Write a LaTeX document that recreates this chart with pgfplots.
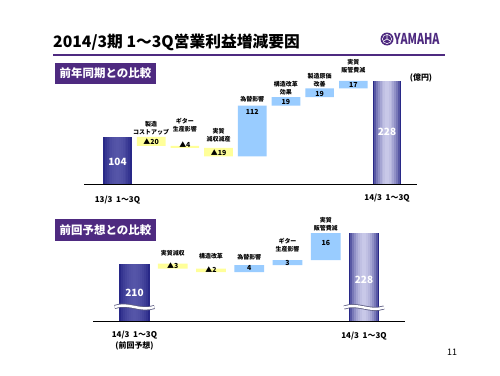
\documentclass[border=0pt]{standalone}
\usepackage{fontspec}
\setmainfont{Noto Sans CJK JP}
\usepackage{graphicx}
\usepackage{pgfplots}
\pgfplotsset{compat=1.18}
\definecolor{ypurple}{RGB}{78,42,128}
\definecolor{barY}{RGB}{255,255,153}
\definecolor{barB}{RGB}{153,204,255}
\definecolor{navyD}{RGB}{40,40,135}
\definecolor{navyM}{RGB}{85,85,168}
\definecolor{navyL}{RGB}{200,200,232}
\newcommand{\labf}{\fontsize{6}{8}\selectfont\bfseries}
\newcommand{\valf}{\fontsize{7}{8}\selectfont\bfseries}
\newcommand{\bigf}{\fontsize{10}{11}\selectfont\bfseries}
\newcommand{\catf}{\fontsize{8}{10.5}\selectfont\bfseries}
\pgfplotsset{
  topgeom/.style={at={(84bp,191bp)}, anchor=south west, scale only axis,
    width=333bp, height=129bp, xmin=-0.994, xmax=8.890, ymin=0, ymax=285,
    hide axis, clip mode=individual},
  botgeom/.style={at={(93bp,54bp)}, anchor=south west, scale only axis,
    width=312bp, height=111bp, xmin=-1.085, xmax=7.072, ymin=176, ymax=241.7,
    hide axis, clip mode=individual},
  cyl/.style 2 args={ybar, bar width=#1, bar shift=0pt, draw=none, fill=#2},
}
\begin{document}
\begin{tikzpicture}
\begin{scope}[x=1bp,y=1bp]
\path[use as bounding box, fill=white] (0,0) rectangle (500,375);
% header
\node[anchor=base west, inner sep=0, font=\fontsize{15.8}{15.8}\selectfont\bfseries] at (53,328) {2014/3期 1〜3Q営業利益増減要因};
\draw[ypurple, line width=1.6bp] (53,320) -- (445,320);
\fill[ypurple] (387,336) circle (6.5);
\draw[white, line width=0.5bp] (387,336) circle (4.6);
\draw[white, line width=0.6bp] (387,336) -- (387,340.5) (387,336) -- (383.2,333.8) (387,336) -- (390.8,333.8);
\node[anchor=west, inner sep=0, text=ypurple, font=\fontsize{15}{15}\selectfont\bfseries] at (394,336) {\scalebox{0.72}[1]{YAMAHA}};
% section boxes
\fill[ypurple] (55,312) rectangle (156,291);
\node[text=white, font=\fontsize{11.5}{12}\selectfont\bfseries] at (105.5,301.5) {前年同期との比較};
\fill[ypurple] (55,156) rectangle (156,134);
\node[text=white, font=\fontsize{11.5}{12}\selectfont\bfseries] at (105.5,145) {前回予想との比較};
\node[font=\fontsize{8}{9}\selectfont\bfseries] at (421,297) {(億円)};
\node[font=\fontsize{9}{10}\selectfont] at (452,23) {11};
\end{scope}

% ===== top chart: floating bars =====
\begin{axis}[topgeom, ybar stacked, bar width=0.85]
\addplot[draw=none, fill=none] coordinates {(1,84) (2,80) (3,61) (4,61) (5,173) (6,192) (7,211)};
\addplot[draw=none, fill=barY] coordinates {(1,20) (2,4) (3,19) (4,0) (5,0) (6,0) (7,0)};
\addplot[draw=none, fill=barB] coordinates {(1,0) (2,0) (3,0) (4,112) (5,19) (6,19) (7,17)};
\end{axis}
% top chart: totals (cylinder look from nested bars), labels, baseline
\begin{axis}[topgeom]
\addplot[cyl={0.85}{navyD}] coordinates {(0,104)};
\addplot[cyl={0.744}{navyM!30!navyD}] coordinates {(0,104)};
\addplot[cyl={0.638}{navyM!50!navyD}] coordinates {(0,104)};
\addplot[cyl={0.531}{navyM!65!navyD}] coordinates {(0,104)};
\addplot[cyl={0.425}{navyM!78!navyD}] coordinates {(0,104)};
\addplot[cyl={0.319}{navyM!88!navyD}] coordinates {(0,104)};
\addplot[cyl={0.213}{navyM!95!navyD}] coordinates {(0,104)};
\addplot[cyl={0.106}{navyM}] coordinates {(0,104)};
\addplot[cyl={0.85}{navyD}] coordinates {(8,228)};
\addplot[cyl={0.744}{navyL!30!navyD}] coordinates {(8,228)};
\addplot[cyl={0.638}{navyL!50!navyD}] coordinates {(8,228)};
\addplot[cyl={0.531}{navyL!65!navyD}] coordinates {(8,228)};
\addplot[cyl={0.425}{navyL!78!navyD}] coordinates {(8,228)};
\addplot[cyl={0.319}{navyL!88!navyD}] coordinates {(8,228)};
\addplot[cyl={0.213}{navyL!95!navyD}] coordinates {(8,228)};
\addplot[cyl={0.106}{navyL}] coordinates {(8,228)};
\draw[black, line width=0.9bp] (rel axis cs:0,0) -- (rel axis cs:1,0);
\node[font=\labf, align=center] at (axis cs:1,122.8) {製造\\コストアップ};
\node[font=\labf, align=center] at (axis cs:2,129.4) {ギター\\生産影響};
\node[font=\labf, align=center] at (axis cs:3,108.4) {実質\\減収減産};
\node[font=\labf, align=center] at (axis cs:4,188.1) {為替影響};
\node[font=\labf, align=center] at (axis cs:5,212.4) {構造改革\\効果};
\node[font=\labf, align=center] at (axis cs:6,230.1) {製造原価\\改善};
\node[font=\labf, align=center] at (axis cs:7,260.0) {実質\\販管費減};
\node[font=\bigf, text=white] at (axis cs:0,48.7) {104};
\node[font=\valf] at (axis cs:1,92.9) {▲20};
\node[font=\valf] at (axis cs:2,86.3) {▲4};
\node[font=\valf] at (axis cs:3,68.6) {▲19};
\node[font=\valf] at (axis cs:4,159.3) {112};
\node[font=\valf] at (axis cs:5,181.4) {19};
\node[font=\valf] at (axis cs:6,199.1) {19};
\node[font=\valf] at (axis cs:7,219.0) {17};
\node[font=\bigf, text=white] at (axis cs:8,115.0) {228};
\node[font=\catf] at (axis cs:0,-35.4) {13/3\ \ 1〜3Q};
\node[font=\catf] at (axis cs:8,-31.0) {14/3\ \ 1〜3Q};
\end{axis}

% ===== bottom chart: floating bars =====
\begin{axis}[botgeom, ybar stacked, bar width=0.78]
\addplot[draw=none, fill=none] coordinates {(1,207) (2,205) (3,205) (4,209) (5,212)};
\addplot[draw=none, fill=barY] coordinates {(1,3) (2,2) (3,0) (4,0) (5,0)};
\addplot[draw=none, fill=barB] coordinates {(1,0) (2,0) (3,4) (4,3) (5,16)};
\end{axis}
\begin{axis}[botgeom]
\addplot[cyl={0.81}{navyD}] coordinates {(0,210)};
\addplot[cyl={0.709}{navyM!30!navyD}] coordinates {(0,210)};
\addplot[cyl={0.608}{navyM!50!navyD}] coordinates {(0,210)};
\addplot[cyl={0.506}{navyM!65!navyD}] coordinates {(0,210)};
\addplot[cyl={0.405}{navyM!78!navyD}] coordinates {(0,210)};
\addplot[cyl={0.304}{navyM!88!navyD}] coordinates {(0,210)};
\addplot[cyl={0.203}{navyM!95!navyD}] coordinates {(0,210)};
\addplot[cyl={0.101}{navyM}] coordinates {(0,210)};
\addplot[cyl={0.81}{navyD}] coordinates {(6,228)};
\addplot[cyl={0.709}{navyL!30!navyD}] coordinates {(6,228)};
\addplot[cyl={0.608}{navyL!50!navyD}] coordinates {(6,228)};
\addplot[cyl={0.506}{navyL!65!navyD}] coordinates {(6,228)};
\addplot[cyl={0.405}{navyL!78!navyD}] coordinates {(6,228)};
\addplot[cyl={0.304}{navyL!88!navyD}] coordinates {(6,228)};
\addplot[cyl={0.203}{navyL!95!navyD}] coordinates {(6,228)};
\addplot[cyl={0.101}{navyL}] coordinates {(6,228)};
\draw[black, line width=0.9bp] (rel axis cs:0,0) -- (rel axis cs:1,0);
% axis break marks
\draw[gray!60!navyD, line width=4bp] (axis cs:-0.52,184.3) .. controls (axis cs:-0.15,187.3) and (axis cs:0.15,181.3) .. (axis cs:0.52,184.3);
\draw[white, line width=2.4bp] (axis cs:-0.52,184.3) .. controls (axis cs:-0.15,187.3) and (axis cs:0.15,181.3) .. (axis cs:0.52,184.3);
\draw[gray!60!navyD, line width=4bp] (axis cs:5.48,184.0) .. controls (axis cs:5.85,187.0) and (axis cs:6.15,181.0) .. (axis cs:6.52,184.0);
\draw[white, line width=2.4bp] (axis cs:5.48,184.0) .. controls (axis cs:5.85,187.0) and (axis cs:6.15,181.0) .. (axis cs:6.52,184.0);
\node[font=\labf, align=center] at (axis cs:1,216.2) {実質減収};
\node[font=\labf, align=center] at (axis cs:2,214.5) {構造改革};
\node[font=\labf, align=center] at (axis cs:3,213.9) {為替影響};
\node[font=\labf, align=center] at (axis cs:4,220.7) {ギター\\生産影響};
\node[font=\labf, align=center] at (axis cs:5,233.1) {実質\\販管費減};
\node[font=\bigf, text=white] at (axis cs:0,192.6) {210};
\node[font=\valf] at (axis cs:1,208.5) {▲3};
\node[font=\valf] at (axis cs:2,206.2) {▲2};
\node[font=\valf] at (axis cs:3,207.4) {4};
\node[font=\valf] at (axis cs:4,210.3) {3};
\node[font=\valf] at (axis cs:5,222.2) {16};
\node[font=\bigf, text=white] at (axis cs:6,200.3) {228};
\node[font=\catf, align=center] at (axis cs:0,164.5) {14/3\ \ 1〜3Q\\(前回予想)};
\node[font=\catf] at (axis cs:6,167.1) {14/3\ \ 1〜3Q};
\end{axis}
\end{tikzpicture}
\end{document}
